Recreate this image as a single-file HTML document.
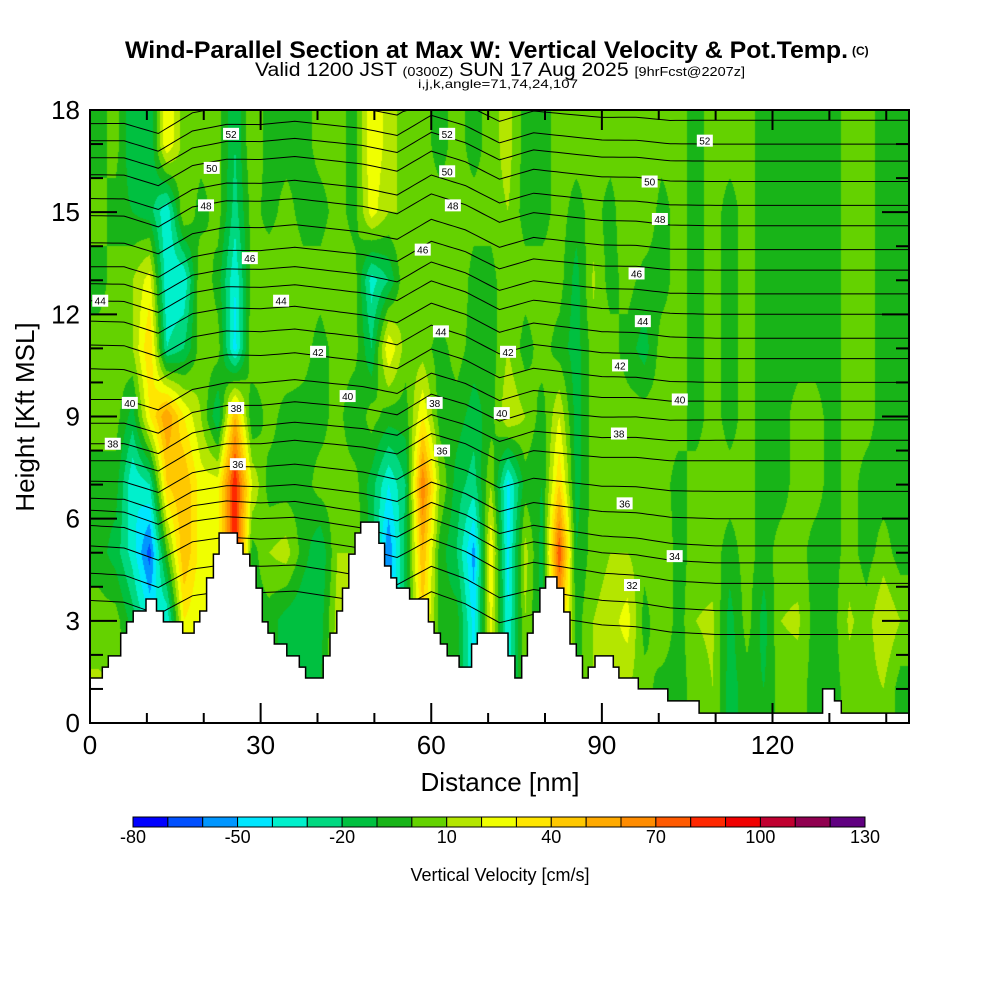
<!DOCTYPE html>
<html><head><meta charset="utf-8"><style>
html,body{margin:0;padding:0;background:#fff;}
#wrap{position:relative;width:1000px;height:1000px;overflow:hidden;}
canvas,svg{position:absolute;left:0;top:0;}
</style></head><body>
<div id="wrap">
<canvas id="field" width="1000" height="1000"></canvas>
<svg id="svg" width="1000" height="1000" xmlns="http://www.w3.org/2000/svg"></svg>
</div>
<script>
// ---- data ----
const colCentersNm = [1.5,4.5,7.5,10.5,13.5,16.5,19.5,22.5,25.5,28.5,31.5,34.5,37.5,40.5,43.5,46.5,49.5,52.5,55.5,58.5,61.5,64.5,67.5,70.5,73.5,76.5,79.5,82.5,85.5,88.5,91.5,94.5,97.5,100.5,103.5,106.5,109.5,112.5,115.5,118.5,121.5,124.5,127.5,130.5,133.5,136.5,139.5,142.5];
const rowHeightsKft = [17,15,13,11,9,7,5,3,1];
const w17 = [-5,5,-20,-20,30,5,5,5,-20,10,-5,-5,-5,5,5,-5,30,15,5,5,-5,5,-5,5,15,-5,-5,5,5,5,5,5,10,5,5,-5,5,5,5,-5,-5,-5,-5,-5,5,5,-5,-5];
const w15 = [5,-5,-10,-15,-40,10,-5,5,-25,5,-5,5,-5,-5,5,-5,25,10,10,5,5,5,5,5,10,-5,-5,5,-5,5,-5,10,10,-5,5,-5,5,-5,5,-5,-5,-5,-5,-5,5,5,-5,-5];
const w13 = [-5,5,10,25,-40,-40,10,-5,-40,5,10,10,5,5,10,5,-35,-20,10,10,10,10,-5,-5,10,5,5,5,-15,12,-5,5,-5,-5,5,-5,5,-5,5,-5,-5,-5,-5,-5,5,5,-5,-5];
const w11 = [5,5,10,40,-30,-20,5,5,-45,10,5,10,5,-5,5,5,-20,30,5,5,-5,5,-5,-5,10,-5,5,-5,-15,5,5,-5,-15,5,5,-5,5,-5,5,-5,-5,-5,-5,-5,5,5,-5,-5];
const w9  = [5,5,-15,30,60,30,10,-20,50,-10,5,-5,-5,-5,5,-10,5,-5,-5,30,-5,-5,-15,-5,20,10,-5,20,-15,5,5,5,5,5,5,-5,5,-5,5,-5,-5,5,5,-5,5,5,-5,-5];
const w7  = [-5,-5,-40,-30,40,50,25,25,90,20,-5,-5,-5,5,5,5,-15,-40,-20,70,10,-15,-25,10,-45,-5,-10,40,-15,5,5,5,5,5,-5,5,5,5,5,-5,-5,5,5,-5,5,-5,-5,-5];
const w5  = [-5,-15,-35,-65,0,50,25,25,90,-5,10,15,-5,-20,10,10,-15,-60,-15,50,-5,-20,-55,30,-45,15,-15,80,-10,5,10,10,5,10,-5,5,5,-5,5,-5,5,5,-5,-5,5,-5,5,-5];
const w3  = [5,5,-15,-40,-40,30,20,25,90,-5,-5,-15,-20,-15,15,10,-15,-60,-15,40,-5,-5,-45,25,-40,10,-15,50,-5,10,15,25,-5,10,-5,10,12,-15,5,-15,10,12,-5,-5,12,5,20,10];
const w1  = [12,10,-5,-40,-40,30,20,25,90,-5,-5,-15,-20,-10,15,10,-15,-60,-15,40,-5,-5,-45,25,-40,10,-15,50,-5,10,15,10,5,-5,-5,5,10,-15,-5,-10,5,5,-5,-5,5,5,10,-5];
const colorBounds = [-80,-70,-60,-50,-40,-30,-20,-10,0,10,20,30,40,50,60,70,80,90,100,110,120,130];
const colorbarTicks = [-80,-50,-20,10,40,70,100,130];
const binColors = ["#0000ff","#0050ff","#0096ff","#00e6ff","#00f0cc","#00d880","#00c040","#18b418","#64d200","#b4e600","#f0ff00","#ffe600","#ffc800","#ffaa00","#ff8c00","#ff5a00","#ff2800","#f00000","#c00030","#900050","#600080"];
const terrainStartNm = [0,2.17,3.22,5.39,6.44,7.6,9.84,11.7,12.9,16.3,18.3,19.3,20.5,21.7,22.7,25.9,26.9,28.1,29.2,30.3,31.3,32.4,34.6,36.8,37.9,41.0,42.2,43.4,44.4,45.5,46.6,47.6,50.8,51.8,52.9,53.9,56.2,59.5,60.5,61.6,62.8,64.9,67.1,68.1,73.5,74.7,75.9,76.9,77.9,79.1,80.1,82.1,83.3,84.4,85.5,86.6,87.6,88.8,92.0,93.0,96.4,101.6,107.1,128.8,130.9,132.1];
const terrainKft = [1.32,1.64,1.97,2.64,2.97,3.29,3.64,3.29,2.97,2.64,2.97,3.29,4.26,4.96,5.58,5.28,4.96,4.61,3.96,2.97,2.64,2.32,1.97,1.64,1.32,1.97,2.64,3.29,3.96,4.96,5.58,5.9,5.28,4.61,4.26,3.96,3.64,2.97,2.64,2.32,1.97,1.64,2.32,2.64,1.97,1.32,1.97,2.64,3.26,3.96,4.29,3.96,3.26,2.32,1.97,1.32,1.64,1.97,1.64,1.32,1.0,0.65,0.29,1.0,0.65,0.29];
const thetaLevels = [30,31,32,33,34,35,36,37,38,39,40,41,42,43,44,45,46,47,48,49,50,51,52,53];
const thetaLeftKft = [3.6,4.4,5.2,5.8,6.25,6.6,7.1,7.7,8.2,8.8,9.5,10.4,11.1,11.8,12.4,12.9,13.4,14.1,14.9,15.4,16.1,16.6,17.1,17.6];
const thetaRightKft = [2.6,3.3,4.1,4.7,5.2,6.0,6.8,7.7,8.3,8.9,9.45,10.0,10.7,11.3,12.0,12.6,13.3,13.9,14.6,15.2,15.9,16.5,17.0,17.7];
const thetaWaveNm = [0,6,12,18,24,30,36,42,48,54,60,66,72,78,84,90,96,102,144];
const thetaWaveKft = [0,0,-0.3,0.3,0.5,0.5,0.6,0.5,0.4,0.2,0.8,0.5,0.0,0.3,0.2,0.1,0.1,0,0];
const labelNm = [24.8,62.8,108.1,21.4,62.8,98.4,20.4,63.8,100.2,28.1,58.5,96.1,1.8,33.6,61.7,97.2,40.1,73.5,93.2,7.0,45.3,72.4,103.7,4.0,25.7,60.6,93.0,26.0,61.9,94.0,102.8,95.3];
const labelKft = [17.3,17.3,17.1,16.3,16.2,15.9,15.2,15.2,14.8,13.65,13.9,13.2,12.4,12.4,11.5,11.8,10.9,10.9,10.5,9.4,9.6,9.1,9.5,8.2,9.25,9.4,8.5,7.6,8.0,6.45,4.9,4.05];
const labelText = ["52","52","52","50","50","50","48","48","48","46","46","46","44","44","44","44","42","42","42","40","40","40","40","38","38","38","38","36","36","36","34","32"];
const xTickLabels = [0,30,60,90,120];
const yTickLabels = [0,3,6,9,12,15,18];

// ---- scales ----
const PX0=90, PX1=909, PY0=110, PY1=723, XMAX=144, YMAX=18;
function xs(nm){return PX0 + nm*(PX1-PX0)/XMAX;}
function ys(k){return PY1 - k*(PY1-PY0)/YMAX;}

// ---- field ----
const grid=[w17,w15,w13,w11,w9,w7,w5,w3,w1];
const cv=document.getElementById('field');
const ctx=cv.getContext('2d');
const img=ctx.createImageData(PX1-PX0,PY1-PY0);
const rgb=binColors.map(h=>[parseInt(h.substr(1,2),16),parseInt(h.substr(3,2),16),parseInt(h.substr(5,2),16)]);
const nc=colCentersNm.length, nr=rowHeightsKft.length;
for(let py=0;py<PY1-PY0;py++){
  const k=(PY1-PY0-py-0.5)*YMAX/(PY1-PY0);
  let rf=(rowHeightsKft[0]-k)/(rowHeightsKft[0]-rowHeightsKft[1]); rf=Math.max(0,Math.min(nr-1,rf));
  const r0=Math.min(nr-2,Math.floor(rf)), rt=rf-r0;
  for(let px=0;px<PX1-PX0;px++){
    const nm=(px+0.5)*XMAX/(PX1-PX0);
    let cf=(nm-colCentersNm[0])/(colCentersNm[1]-colCentersNm[0]); cf=Math.max(0,Math.min(nc-1,cf));
    const c0=Math.min(nc-2,Math.floor(cf)), ct=cf-c0;
    const v=(grid[r0][c0]*(1-ct)+grid[r0][c0+1]*ct)*(1-rt)+(grid[r0+1][c0]*(1-ct)+grid[r0+1][c0+1]*ct)*rt;
    let i=Math.floor((v+80)/10); if(i<0)i=0; if(i>20)i=20;
    const o=(py*(PX1-PX0)+px)*4;
    img.data[o]=rgb[i][0];img.data[o+1]=rgb[i][1];img.data[o+2]=rgb[i][2];img.data[o+3]=255;
  }
}
ctx.putImageData(img,PX0,PY0);

// ---- svg ----
const NS='http://www.w3.org/2000/svg';
const svg=document.getElementById('svg');
function mk(tag,attrs,parent){const e=document.createElementNS(NS,tag);for(const a in attrs)e.setAttribute(a,attrs[a]);(parent||svg).appendChild(e);return e;}

// theta contours
const gC=mk('g',{});


function wave(x){for(let i=0;i<thetaWaveNm.length-1;i++){if(x<=thetaWaveNm[i+1]){const t=(x-thetaWaveNm[i])/(thetaWaveNm[i+1]-thetaWaveNm[i]);return thetaWaveKft[i]*(1-t)+thetaWaveKft[i+1]*t;}}return 0;}
thetaLevels.forEach((L,li)=>{
  let d='';
  for(let x=0;x<=XMAX;x+=1){
    const f=Math.min(1,x/110);
    const h=thetaLeftKft[li]*(1-f)+thetaRightKft[li]*f+wave(x);
    d+=(x?'L':'M')+xs(x).toFixed(1)+' '+Math.max(PY0,ys(h)).toFixed(1);
  }
  const p=mk('path',{d:d,fill:'none',stroke:'#000','stroke-width':1},gC);
  
  
});

// terrain
let td='M'+xs(0)+' '+PY1;
for(let i=0;i<terrainStartNm.length;i++){
  const x1=i<terrainStartNm.length-1?terrainStartNm[i+1]:XMAX;
  td+=' L'+xs(terrainStartNm[i]).toFixed(1)+' '+ys(terrainKft[i]).toFixed(1)+' L'+xs(x1).toFixed(1)+' '+ys(terrainKft[i]).toFixed(1);
}
td+=' L'+xs(XMAX)+' '+PY1+' Z';
const terr=mk('path',{d:td,fill:'#fff',stroke:'#000','stroke-width':1.5});



// contour labels
labelText.forEach((t,i)=>{
  const g=mk('g',{});
  
  
  const x=xs(labelNm[i]), y=ys(labelKft[i]);
  mk('rect',{x:x-8,y:y-6,width:16,height:12,fill:'#fff'},g);
  const tx=mk('text',{x:x,y:y+4,'text-anchor':'middle','font-family':'Liberation Sans, sans-serif','font-size':10,fill:'#000'},g);
  tx.textContent=t;
});

// frame & ticks
const frame=mk('rect',{x:PX0,y:PY0,width:PX1-PX0,height:PY1-PY0,fill:'none',stroke:'#000','stroke-width':2});


const gT=mk('g',{stroke:'#000','stroke-width':2});


for(let k=0;k<=18;k++){const y=ys(k),L=(k%3==0)?27:13;
  mk('line',{x1:PX0,y1:y,x2:PX0+L,y2:y},gT);mk('line',{x1:PX1,y1:y,x2:PX1-L,y2:y},gT);}
for(let x=10;x<XMAX;x+=10){const X=xs(x),L=(x%30==0)?20:10;
  mk('line',{x1:X,y1:PY1,x2:X,y2:PY1-L},gT);mk('line',{x1:X,y1:PY0,x2:X,y2:PY0+L},gT);}
const FF='Liberation Sans, sans-serif';
yTickLabels.forEach(v=>{const t=mk('text',{x:80,y:ys(v)+9,'text-anchor':'end','font-family':FF,'font-size':26});t.textContent=v;
  
  });
xTickLabels.forEach(v=>{const t=mk('text',{x:xs(v),y:754,'text-anchor':'middle','font-family':FF,'font-size':26});t.textContent=v;
  
  });
const xt=mk('text',{x:500,y:791,'text-anchor':'middle','font-family':FF,'font-size':26});xt.textContent='Distance [nm]';


const yt=mk('text',{x:0,y:0,'text-anchor':'middle','font-family':FF,'font-size':26,transform:'translate(34,417) rotate(-90)'});yt.textContent='Height [Kft MSL]';



// colorbar
const CB0=133,CB1=865,CBY=817,CBH=10;
const gB=mk('g',{});


const cw=(CB1-CB0)/(colorBounds.length-1);
binColors.forEach((c,i)=>{const r=mk('rect',{x:CB0+i*cw,y:CBY,width:cw,height:CBH,fill:c,stroke:'#000','stroke-width':1},gB);
  
  });
colorbarTicks.forEach(v=>{const t=mk('text',{x:CB0+(v-colorBounds[0])/10*cw,y:843,'text-anchor':'middle','font-family':FF,'font-size':18},gB);t.textContent=v;
  
  });
const cbt=mk('text',{x:500,y:881,'text-anchor':'middle','font-family':FF,'font-size':18});cbt.textContent='Vertical Velocity [cm/s]';



// titles
const t1=mk('text',{x:125,y:58,'font-family':FF,'font-size':24,'font-weight':'bold',textLength:723,lengthAdjust:'spacingAndGlyphs'});
t1.textContent='Wind-Parallel Section at Max W: Vertical Velocity & Pot.Temp.';


const tc=mk('text',{x:852,y:55,'font-family':FF,'font-size':12,'font-weight':'bold'});tc.textContent='(C)';


const t2=mk('text',{x:255,y:76,'font-family':FF,'font-size':19,textLength:490,lengthAdjust:'spacingAndGlyphs'});
t2.innerHTML='Valid 1200 JST <tspan font-size="13">(0300Z)</tspan> SUN 17 Aug 2025 <tspan font-size="13">[9hrFcst@2207z]</tspan>';


const t3=mk('text',{x:418,y:88,'font-family':FF,'font-size':12,textLength:160,lengthAdjust:'spacingAndGlyphs'});t3.textContent='i,j,k,angle=71,74,24,107';


</script>
</body></html>
